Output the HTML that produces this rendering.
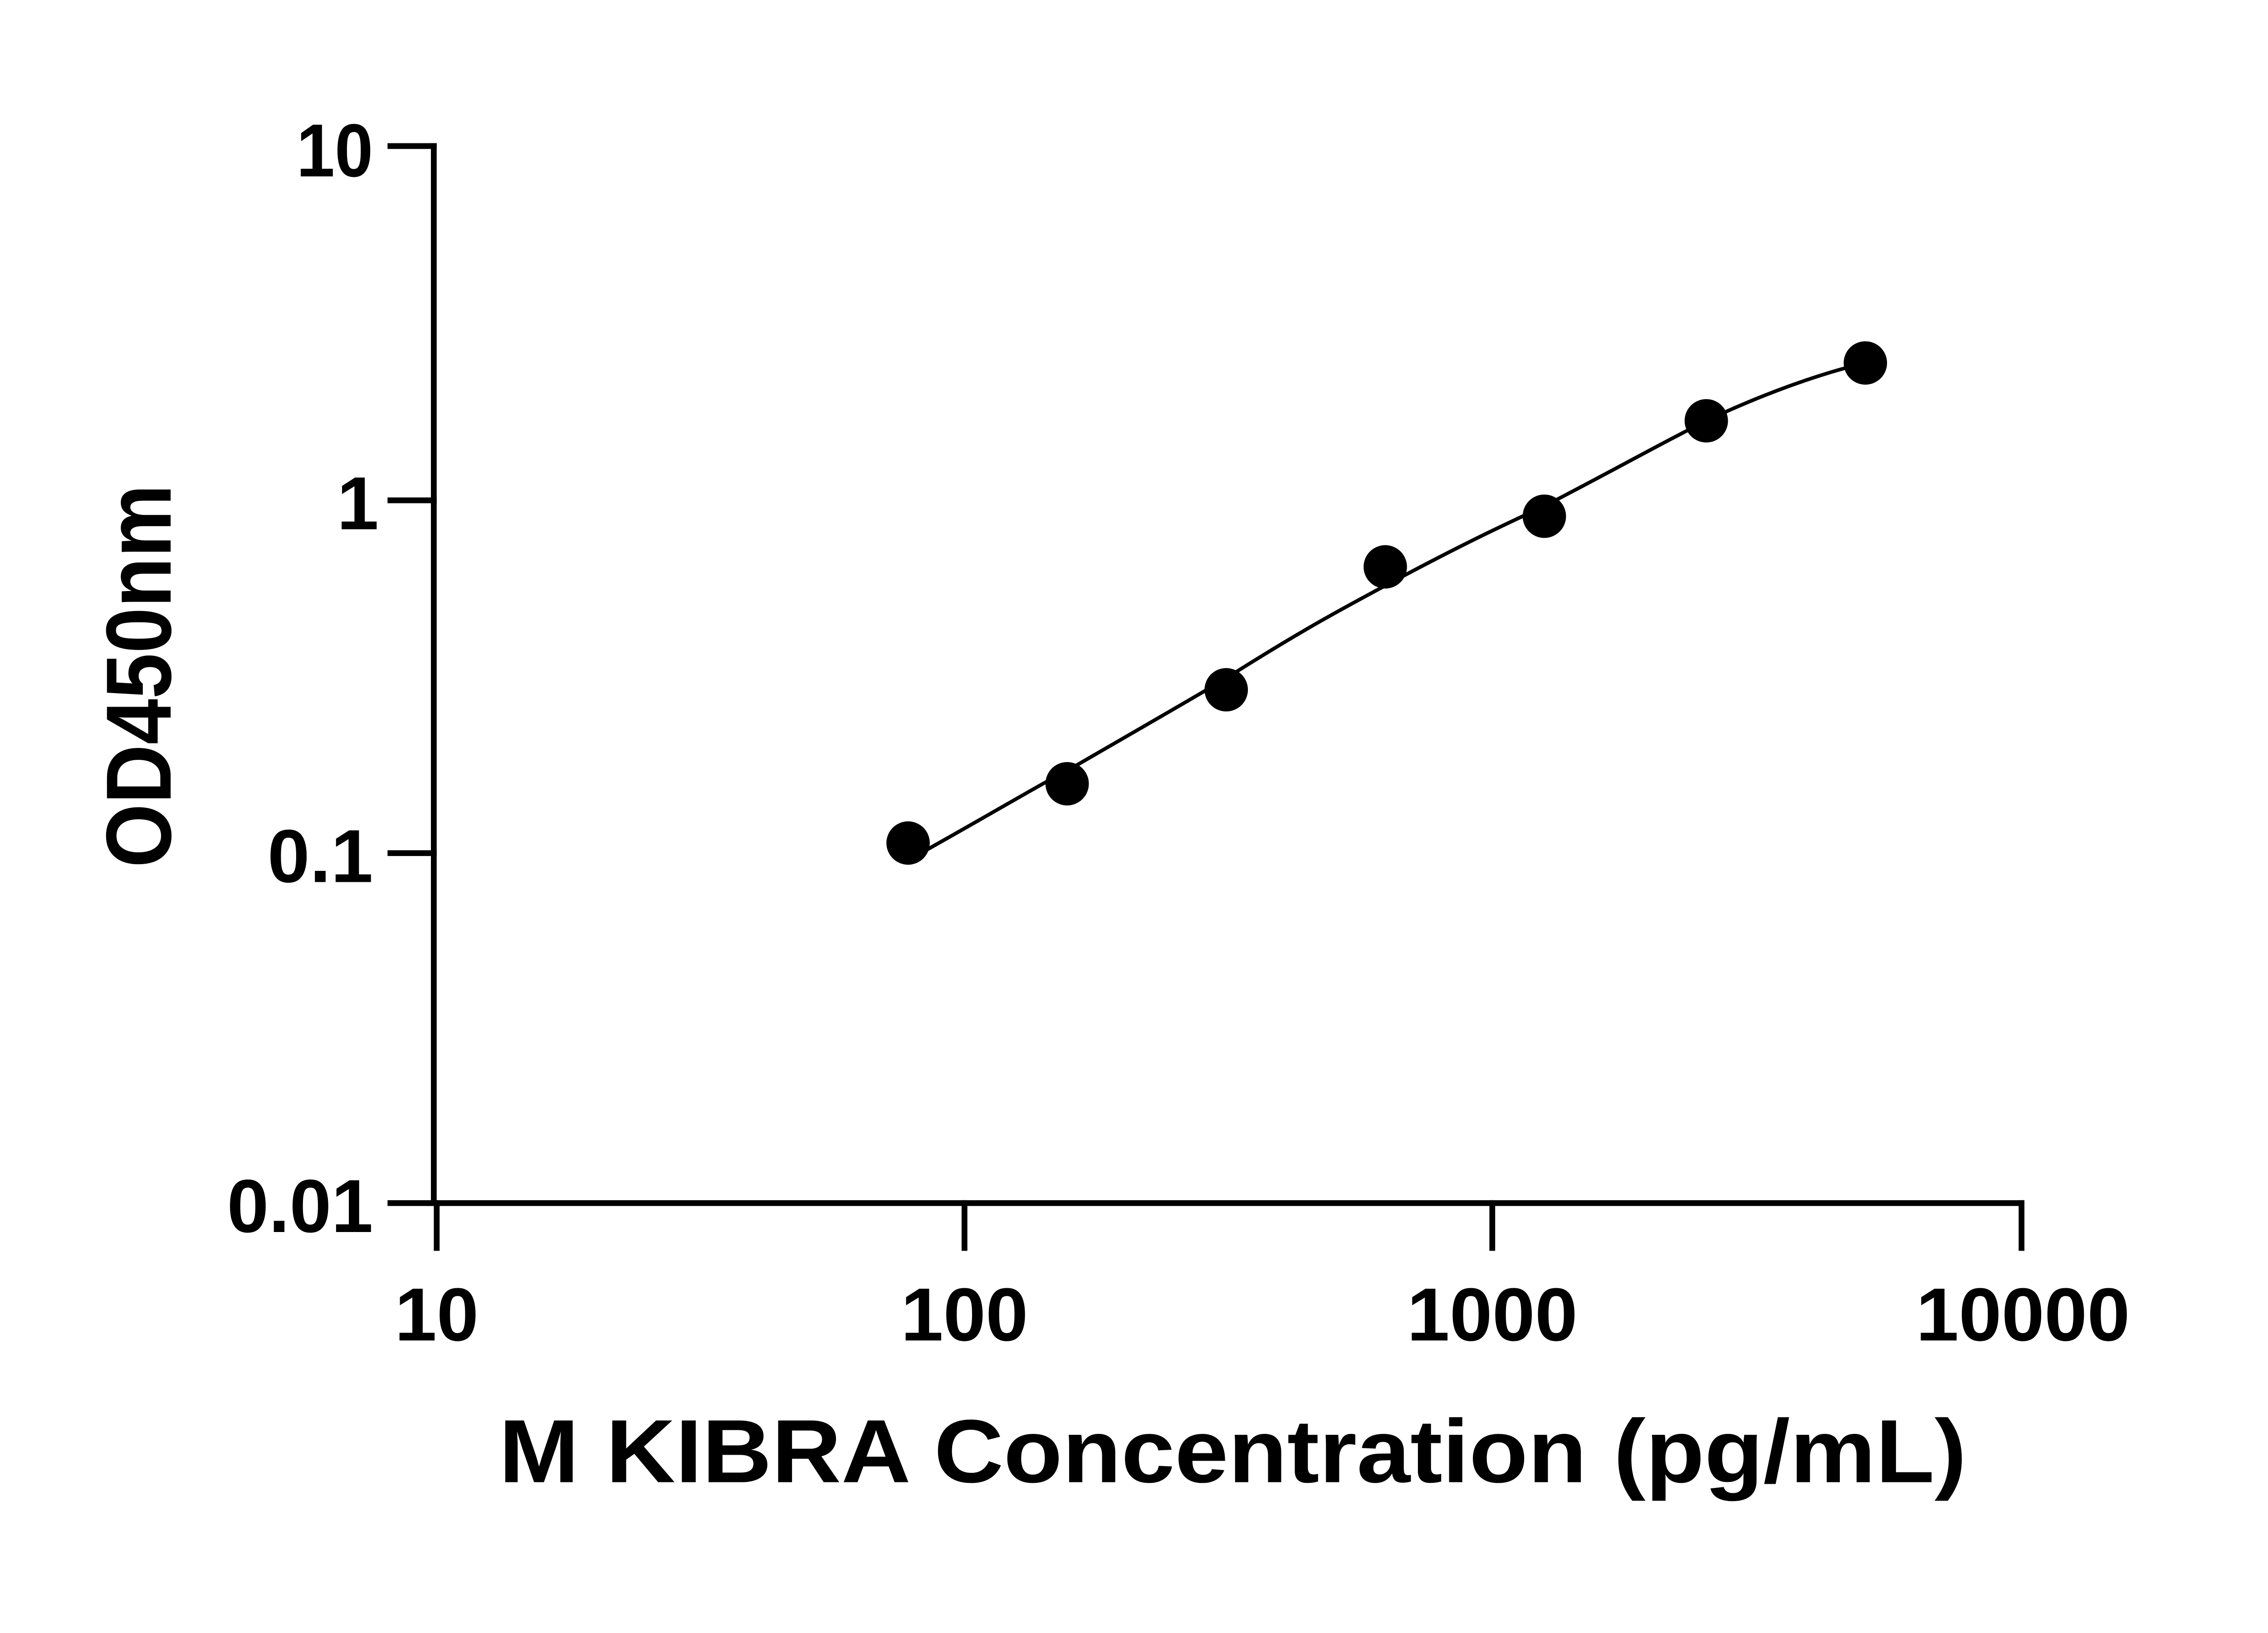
<!DOCTYPE html>
<html><head><style>html,body{margin:0;padding:0;background:#fff}svg{display:block}</style></head>
<body>
<svg width="5142" height="3600" viewBox="0 0 1613 1129.3" preserveAspectRatio="none" xmlns="http://www.w3.org/2000/svg">
<g stroke="#000" stroke-width="4" fill="none" stroke-linecap="square">
<path d="M300,101 V832 H1398"/>
<path d="M270,101 H300 M270,346 H300 M270,590 H300 M270,832 H300"/>
<path d="M302,832 V863 M667,832 V863 M1032,832 V863 M1398,832 V863"/>
</g>
<path d="M626,596 C680,566 720,542 738,533 C800,497 830,480 848,469 C900,436 930,420 958,405 C1010,377 1040,363 1068,350 C1120,323 1150,306 1180,291 C1220,272 1260,258 1290,251" stroke="#000" stroke-width="2.5" fill="none"/>
<g fill="#000">
<circle cx="628" cy="583" r="15"/><circle cx="738" cy="542" r="15"/><circle cx="848" cy="477" r="15"/>
<circle cx="958" cy="392" r="15"/><circle cx="1068" cy="357" r="15"/><circle cx="1180" cy="291" r="15"/><circle cx="1290" cy="251" r="15"/>
</g>
<g font-family="Liberation Sans, sans-serif" font-weight="bold" font-size="52" fill="#000">
<text x="205" y="122" textLength="53" lengthAdjust="spacingAndGlyphs">10</text>
<text x="233" y="366">1</text>
<text x="185" y="610" textLength="73" lengthAdjust="spacingAndGlyphs">0.1</text>
<text x="157" y="852" textLength="101" lengthAdjust="spacingAndGlyphs">0.01</text>
<text x="273" y="927" textLength="58" lengthAdjust="spacingAndGlyphs">10</text>
<text x="623" y="927" textLength="88" lengthAdjust="spacingAndGlyphs">100</text>
<text x="973" y="927" textLength="118" lengthAdjust="spacingAndGlyphs">1000</text>
<text x="1325" y="927" textLength="148" lengthAdjust="spacingAndGlyphs">10000</text>
<text x="345" y="1025" font-size="62" textLength="1015" lengthAdjust="spacingAndGlyphs">M KIBRA Concentration (pg/mL)</text>
<text transform="translate(118,600) rotate(-90)" font-size="64" textLength="265" lengthAdjust="spacingAndGlyphs">OD450nm</text>
</g>
</svg>
</body></html>
